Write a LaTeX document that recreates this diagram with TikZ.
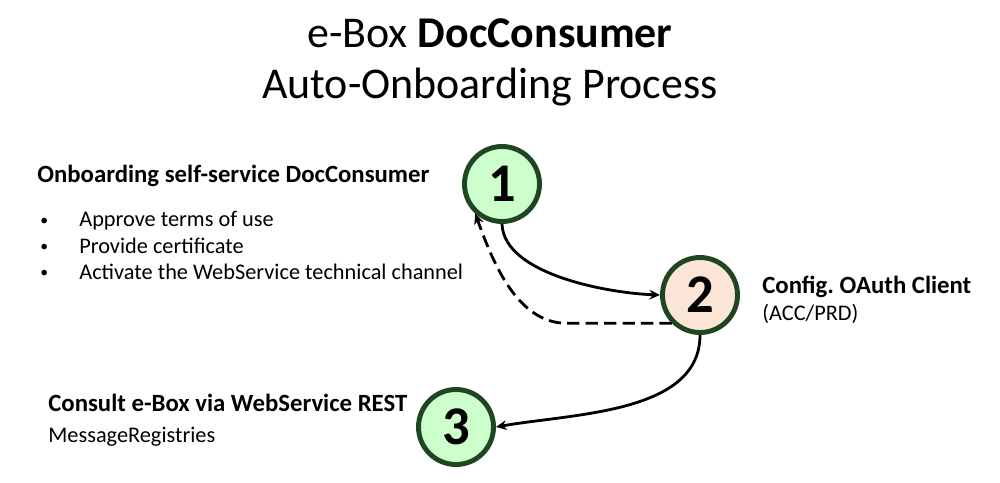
\documentclass[tikz,border=0pt]{standalone}
\usepackage{fontspec}
\setmainfont{Carlito}
\usetikzlibrary{arrows.meta}

\definecolor{stepgreen}{HTML}{CCFFCC}
\definecolor{steporange}{HTML}{FBE5D6}
\definecolor{stepborder}{HTML}{1E4620}

\tikzset{
  stepcircle/.style={circle, draw=stepborder, line width=2.8pt, minimum size=15mm,
    inner sep=0pt, font=\fontsize{31}{31}\selectfont\bfseries},
  heading/.style={anchor=base west, inner sep=0pt, font=\fontsize{14.1}{16}\selectfont\bfseries},
  plain/.style={anchor=base west, inner sep=0pt, font=\fontsize{12.7}{15}\selectfont},
  dot/.style={anchor=base west, inner sep=0pt, font=\fontsize{9}{10}\selectfont},
  flow/.style={-{Stealth[length=6pt,width=5.5pt]}, line width=1.6pt},
}

\begin{document}
\begin{tikzpicture}[x=0.2mm,y=-0.2mm]
  \useasboundingbox (0,0) rectangle (1000,483);

  % title
  \node (title) at (490,62) [align=center, font=\fontsize{25}{29}\selectfont]
    {e-Box \textbf{DocConsumer}\\Auto-Onboarding Process};

  % steps
  \node (1) [stepcircle, fill=stepgreen] at (502,184) {1};
  \node (2) [stepcircle, fill=steporange] at (700,295) {2};
  \node (3) [stepcircle, fill=stepgreen] at (456,427) {3};

  % texts step 1
  \node (h1) [heading] at (37,183) {Onboarding self-service DocConsumer};
  \node (b1) [dot] at (40,225) {•};
  \node (t1) [plain] at (79,227) {Approve terms of use};
  \node (b2) [dot] at (40,251) {•};
  \node (t2) [plain] at (79,253) {Provide certificate};
  \node (b3) [dot] at (40,277) {•};
  \node (t3) [plain] at (79,279) {Activate the WebService technical channel};

  % texts step 2
  \node (h2) [heading] at (762,293) {Config.\ OAuth Client};
  \node (t4) [plain] at (762,320) {(ACC/PRD)};

  % texts step 3
  \node (h3) [heading] at (48,411) {Consult e-Box via WebService REST};
  \node (t5) [plain] at (48,442) {MessageRegistries};

  \draw[flow] (1.south) to[out=-88,in=178,looseness=0.75] (2.west);
  \draw[flow, dash pattern=on 7pt off 3.5pt] (2.225) -- ++(-105,0)
    to[out=180,in=-70,looseness=0.9] (1.228);
  \draw[flow] (2.south) to[out=-90,in=10,looseness=0.9] (3.east);
\end{tikzpicture}
\end{document}
